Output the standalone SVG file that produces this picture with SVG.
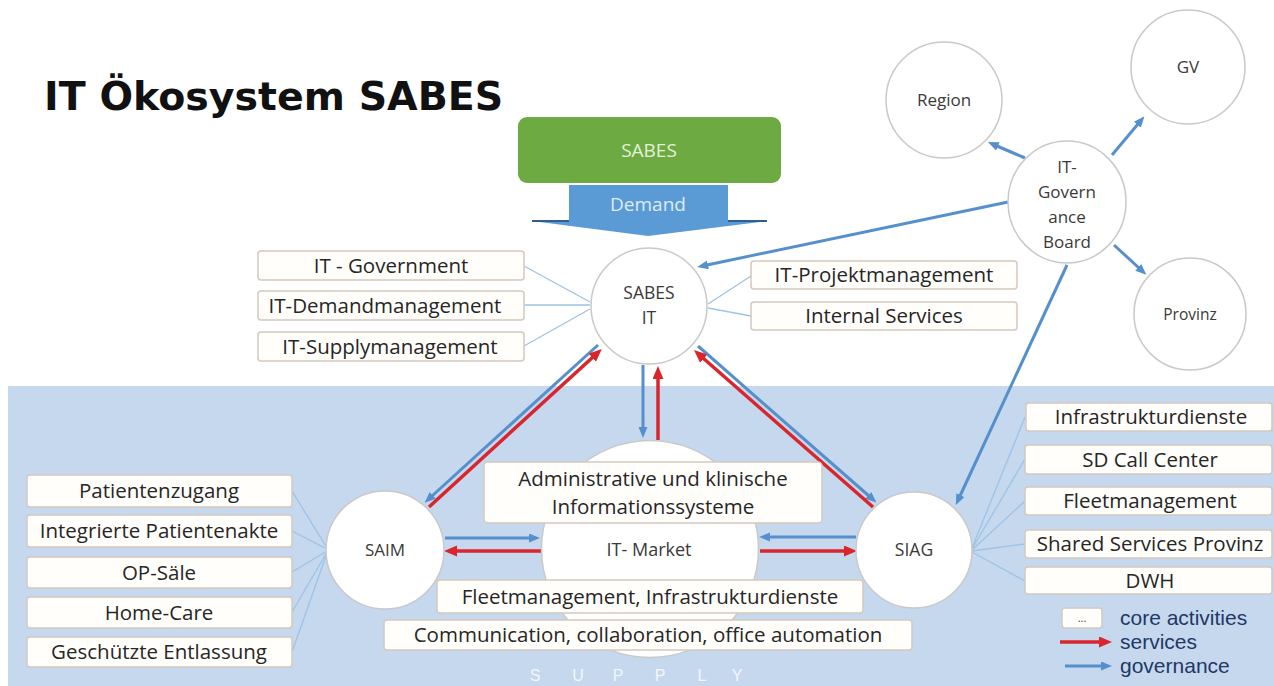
<svg xmlns="http://www.w3.org/2000/svg" width="1274" height="686" viewBox="0 0 1274 686">
<style>
.box{fill:#fffefb;stroke:#d3c9bf;stroke-width:1.5}
.lbl{font-family:"Open Sans","Liberation Sans",sans-serif;font-size:20.5px;fill:#262626;text-anchor:middle}
.node{fill:#fff;stroke:#c9c9c9;stroke-width:1.5}
.ntx{font-family:"Open Sans","Liberation Sans",sans-serif;font-size:17px;fill:#3a3a3a;text-anchor:middle}
.thin{stroke:#9dc3e6;stroke-width:1.3;fill:none}
.gov{stroke:#5590cc;stroke-width:3;fill:none;marker-end:url(#ab)}
.svc{stroke:#d8262c;stroke-width:3.5;fill:none;marker-end:url(#ar)}
.leg{font-family:"Liberation Sans",Arial,sans-serif;font-size:21px;fill:#1f3864}
</style>
<defs>
<marker id="ab" markerUnits="userSpaceOnUse" markerWidth="11" markerHeight="10" refX="1" refY="4.5" orient="auto"><path d="M0,0 L11,4.5 L0,9 z" fill="#5590cc"/></marker>
<marker id="ar" markerUnits="userSpaceOnUse" markerWidth="13" markerHeight="12" refX="1" refY="5.5" orient="auto"><path d="M0,0 L13,5.5 L0,11 z" fill="#d8262c"/></marker>
</defs>
<rect width="1274" height="686" fill="#fff"/>
<rect x="8" y="386" width="1266" height="300" fill="#c5d8ee"/>
<text x="44" y="110" font-family="DejaVu Sans,sans-serif" font-weight="bold" font-size="39.5" fill="#111">IT Ökosystem SABES</text>
<text font-family="Liberation Sans,Arial,sans-serif" font-size="16" fill="#f2f7fc" text-anchor="middle" x="535 578 618 660 702 737" y="681">SUPPLY</text>

<g id="connectors">
<line class="thin" x1="524" y1="266" x2="590" y2="302"/>
<line class="thin" x1="524" y1="305" x2="590" y2="305"/>
<line class="thin" x1="524" y1="346" x2="590" y2="309"/>
<line class="thin" x1="708" y1="304" x2="751" y2="276"/>
<line class="thin" x1="708" y1="308" x2="751" y2="316"/>
<line class="thin" x1="292" y1="491" x2="327" y2="548"/>
<line class="thin" x1="292" y1="531" x2="327" y2="549"/>
<line class="thin" x1="292" y1="572" x2="327" y2="551"/>
<line class="thin" x1="292" y1="612" x2="327" y2="552"/>
<line class="thin" x1="292" y1="652" x2="327" y2="553"/>
<line class="thin" x1="972" y1="548" x2="1025" y2="417"/>
<line class="thin" x1="972" y1="549" x2="1025" y2="459"/>
<line class="thin" x1="972" y1="550" x2="1025" y2="501"/>
<line class="thin" x1="972" y1="551" x2="1025" y2="544"/>
<line class="thin" x1="972" y1="552" x2="1025" y2="581"/>
<line class="gov" x1="1025" y1="158" x2="997" y2="146"/>
<line class="gov" x1="1112" y1="155" x2="1138" y2="124"/>
<line class="gov" x1="1114" y1="245" x2="1139" y2="268"/>
<line class="gov" x1="1008" y1="202" x2="707" y2="265"/>
<line class="gov" x1="1067" y1="265" x2="960" y2="496"/>
<line class="gov" x1="643" y1="365" x2="643" y2="428"/>
<line class="svc" x1="658" y1="440" x2="658" y2="378"/>
<line class="gov" x1="598" y1="345" x2="432" y2="496"/>
<line class="svc" x1="429" y1="507" x2="593" y2="357"/>
<line class="gov" x1="698" y1="346" x2="869" y2="496"/>
<line class="svc" x1="873" y1="507" x2="703" y2="358"/>
<line class="gov" x1="445" y1="538" x2="530" y2="538"/>
<line class="svc" x1="541" y1="551" x2="456" y2="551"/>
<line class="gov" x1="856" y1="537" x2="769" y2="537"/>
<line class="svc" x1="760" y1="551" x2="845" y2="551"/>
</g>

<g id="sabes">
<rect x="518" y="117" width="263" height="66" rx="9" fill="#6dab42"/>
<text class="lbl" x="649" y="157" style="fill:#e4f1da;font-size:19px">SABES</text>
</g>
<g id="demand">
<polygon points="532,221 767,221 648,236" fill="#5b9bd5"/>
<path d="M532,221 L569,221 M728,221 L767,221" stroke="#2f5f8f" stroke-width="2" fill="none"/>
<rect x="569" y="185" width="159" height="37" fill="#5b9bd5"/>
<text class="lbl" x="648" y="211" style="fill:#deebf7;font-size:19px">Demand</text>
</g>

<g id="sabes-it"><circle class="node" cx="649" cy="306" r="58"/>
<text class="ntx" x="649" y="299" style="font-size:17.5px">SABES</text><text class="ntx" x="649" y="324" style="font-size:17.5px">IT</text></g>
<g id="region"><circle class="node" cx="944" cy="100" r="58"/><text class="ntx" x="944" y="106">Region</text></g>
<g id="gv"><circle class="node" cx="1188" cy="67" r="57"/><text class="ntx" x="1188" y="73">GV</text></g>
<g id="provinz"><circle class="node" cx="1190" cy="314" r="56"/><text class="ntx" x="1190" y="320" style="font-size:15.5px">Provinz</text></g>
<g id="governance-board"><ellipse class="node" cx="1067" cy="202" rx="59" ry="61"/>
<text class="ntx" x="1067" y="173">IT-</text><text class="ntx" x="1067" y="198">Govern</text><text class="ntx" x="1067" y="223">ance</text><text class="ntx" x="1067" y="248">Board</text></g>

<g id="it-government"><rect class="box" x="258" y="251" width="266" height="29" rx="3"/><text class="lbl" x="391" y="273">IT - Government</text></g>
<g id="it-demandmanagement"><rect class="box" x="258" y="291" width="266" height="29" rx="3"/><text class="lbl" x="385" y="313">IT-Demandmanagement</text></g>
<g id="it-supplymanagement"><rect class="box" x="258" y="332" width="266" height="29" rx="3"/><text class="lbl" x="390" y="354">IT-Supplymanagement</text></g>
<g id="it-projektmanagement"><rect class="box" x="751" y="261" width="266" height="28" rx="3"/><text class="lbl" x="884" y="282">IT-Projektmanagement</text></g>
<g id="internal-services"><rect class="box" x="751" y="302" width="266" height="28" rx="3"/><text class="lbl" x="884" y="323">Internal Services</text></g>

<g id="saim"><circle class="node" cx="385" cy="550" r="59"/><text class="ntx" x="385" y="556">SAIM</text></g>
<g id="siag"><circle class="node" cx="914" cy="550" r="58"/><text class="ntx" x="914" y="556" style="font-size:17.5px">SIAG</text></g>
<g id="it-market"><circle class="node" cx="650" cy="549" r="108.5"/><text class="ntx" x="649" y="556" style="font-size:18px">IT- Market</text></g>
<g id="admin-systems"><rect class="box" x="484" y="462" width="338" height="61" rx="4"/><text class="lbl" x="653" y="486">Administrative und klinische</text><text class="lbl" x="653" y="514">Informationssysteme</text></g>
<g id="fleet-infra"><rect class="box" x="437" y="580" width="426" height="33" rx="3"/><text class="lbl" x="650" y="604">Fleetmanagement, Infrastrukturdienste</text></g>
<g id="communication"><rect class="box" x="384" y="620" width="528" height="30" rx="3"/><text class="lbl" x="648" y="642">Communication, collaboration, office automation</text></g>

<g id="patientenzugang"><rect class="box" x="27" y="475" width="265" height="32" rx="3"/><text class="lbl" x="159" y="498">Patientenzugang</text></g>
<g id="patientenakte"><rect class="box" x="27" y="515" width="265" height="32" rx="3"/><text class="lbl" x="159" y="538">Integrierte Patientenakte</text></g>
<g id="op-saele"><rect class="box" x="27" y="557" width="265" height="31" rx="3"/><text class="lbl" x="159" y="580">OP-Säle</text></g>
<g id="home-care"><rect class="box" x="27" y="597" width="265" height="31" rx="3"/><text class="lbl" x="159" y="620">Home-Care</text></g>
<g id="entlassung"><rect class="box" x="27" y="637" width="265" height="30" rx="3"/><text class="lbl" x="159" y="659">Geschützte Entlassung</text></g>

<g id="infrastrukturdienste"><rect class="box" x="1026" y="403" width="246" height="28" rx="3"/><text class="lbl" x="1151" y="424">Infrastrukturdienste</text></g>
<g id="sd-call-center"><rect class="box" x="1025" y="445" width="247" height="29" rx="3"/><text class="lbl" x="1150" y="467">SD Call Center</text></g>
<g id="fleetmanagement"><rect class="box" x="1025" y="487" width="247" height="28" rx="3"/><text class="lbl" x="1150" y="508">Fleetmanagement</text></g>
<g id="shared-services"><rect class="box" x="1025" y="530" width="247" height="28" rx="3"/><text class="lbl" x="1150" y="551">Shared Services Provinz</text></g>
<g id="dwh"><rect class="box" x="1025" y="567" width="247" height="27" rx="3"/><text class="lbl" x="1150" y="588">DWH</text></g>

<g id="legend">
<rect class="box" x="1062" y="608" width="40" height="20" rx="3"/>
<text class="ntx" x="1082" y="622" style="font-size:11px">...</text>
<text class="leg" x="1120" y="625">core activities</text>
<line class="svc" x1="1060" y1="642" x2="1100" y2="642"/>
<text class="leg" x="1120" y="649">services</text>
<line class="gov" x1="1065" y1="666" x2="1102" y2="666"/>
<text class="leg" x="1120" y="673">governance</text>
</g>
</svg>
